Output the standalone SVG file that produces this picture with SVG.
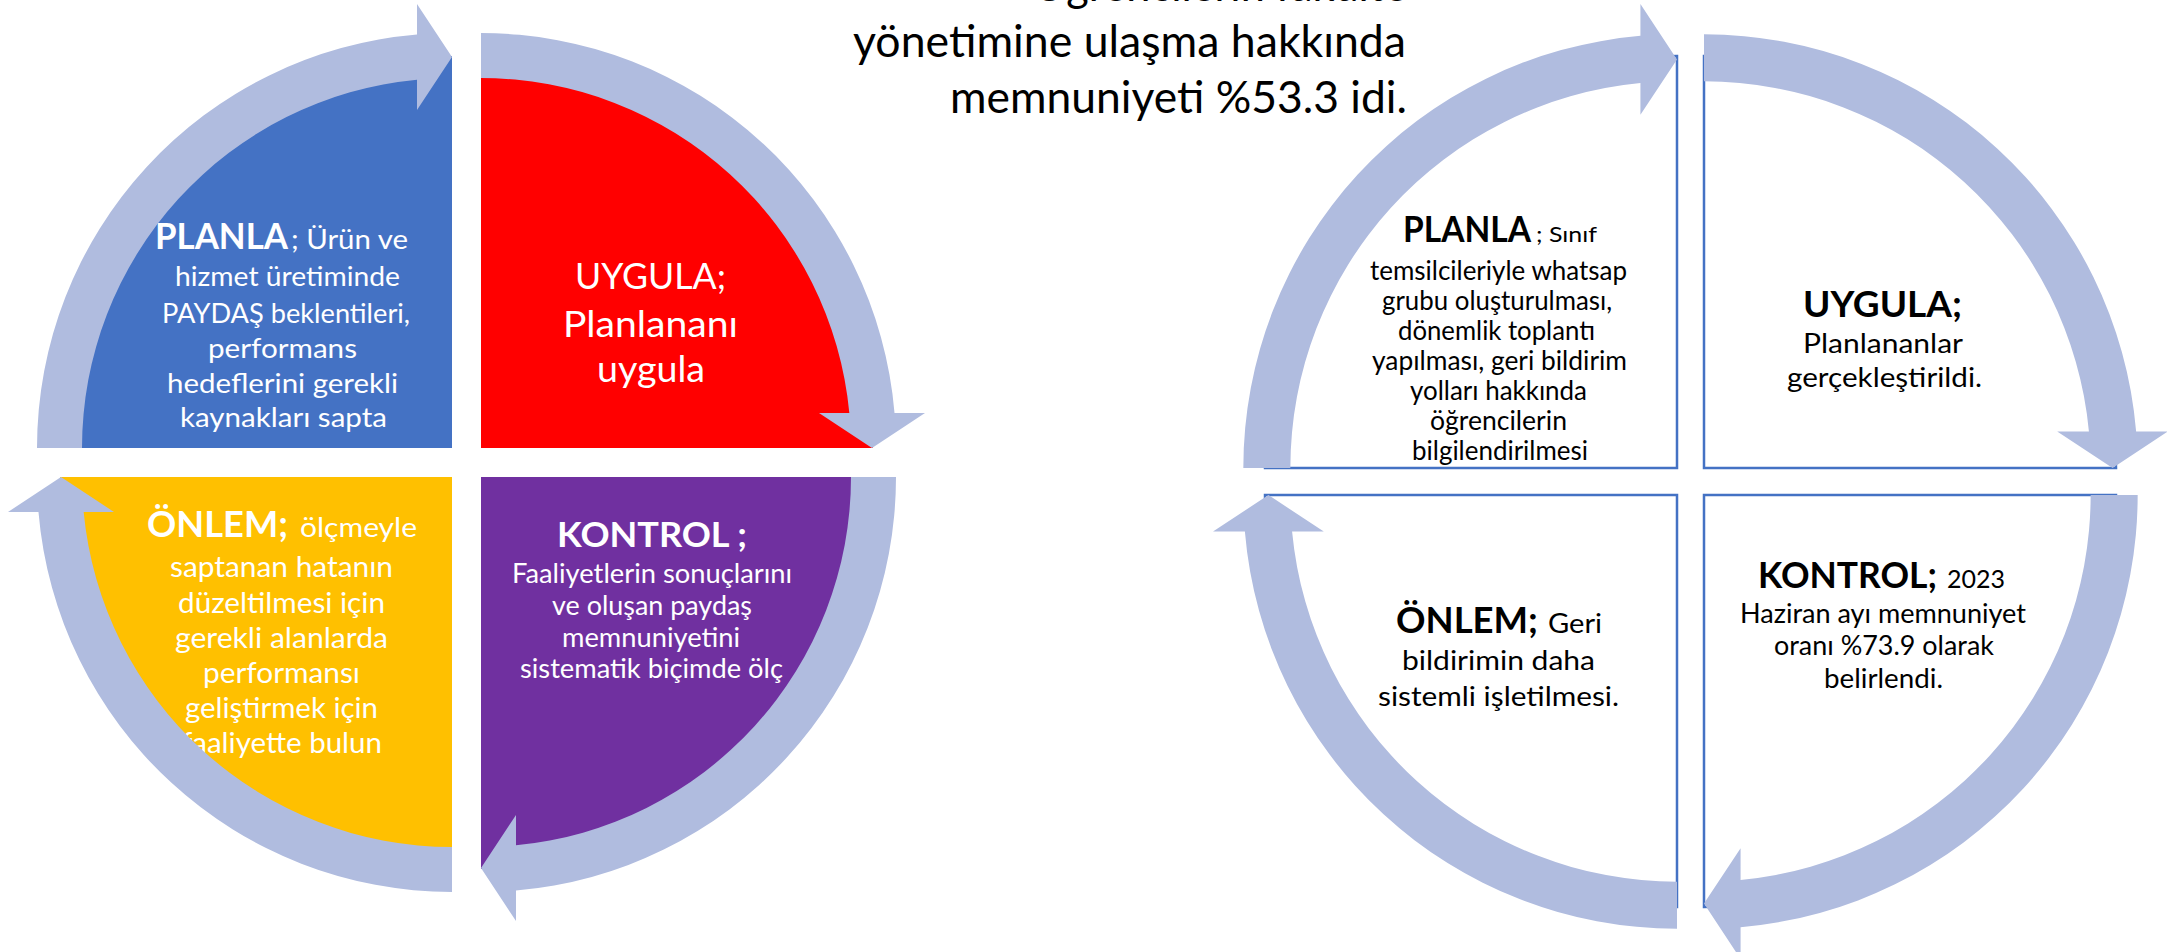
<svg xmlns="http://www.w3.org/2000/svg" xmlns:xlink="http://www.w3.org/1999/xlink" width="2167" height="952" viewBox="0 0 2167 952">
<style>
  text { font-family: Lato, "Open Sans", "Liberation Sans", sans-serif; }
  .w { fill: #ffffff; }
  .k { fill: #000000; }
  .b { font-weight: 700; }
  .pie2 { fill: #ffffff; stroke: #4472C4; stroke-width: 2.5; }
  .arrow { fill: #B0BCDF; }
  .title { font-size: 44px; fill: #000000; }
</style>
<defs>
  <path id="arc" d="M -415 0 A 415 415 0 0 1 -35 -413.52 L -35 -444 L 0 -391 L -35 -338 L -35 -368.34 A 370 370 0 0 0 -370 0 Z"/>
</defs>
<rect x="0" y="0" width="2167" height="952" fill="#ffffff"/>

<g id="title">
  <text class="title" x="1032" y="1" textLength="375" lengthAdjust="spacingAndGlyphs">Öğrencilerin fakülte</text>
  <text class="title" x="853" y="57" textLength="553" lengthAdjust="spacingAndGlyphs">yönetimine ulaşma hakkında</text>
  <text class="title" x="950" y="113" textLength="457" lengthAdjust="spacingAndGlyphs">memnuniyeti %53.3 idi.</text>
</g>

<!-- Left cycle -->
<g id="l-planla">
  <path d="M452,448 L60,448 A392,392 0 0 1 452,56 Z" fill="#4472C4"/>
  <g class="w" font-size="27">
    <text class="b" x="155" y="249" font-size="37" textLength="133" lengthAdjust="spacingAndGlyphs">PLANLA</text>
    <text x="291" y="249" textLength="117" lengthAdjust="spacingAndGlyphs">; Ürün ve</text>
    <text x="175" y="286" textLength="225" lengthAdjust="spacingAndGlyphs">hizmet üretiminde</text>
    <text x="162" y="323" textLength="248" lengthAdjust="spacingAndGlyphs">PAYDAŞ beklentileri,</text>
    <text x="208" y="358" textLength="149" lengthAdjust="spacingAndGlyphs">performans</text>
    <text x="167" y="393" textLength="231" lengthAdjust="spacingAndGlyphs">hedeflerini gerekli</text>
    <text x="180" y="427" textLength="207" lengthAdjust="spacingAndGlyphs">kaynakları sapta</text>
  </g>
</g>
<g id="l-uygula">
  <path d="M481,448 L481,56 A392,392 0 0 1 873,448 Z" fill="#FF0000"/>
  <g class="w" font-size="37">
    <text x="575" y="289" textLength="151" lengthAdjust="spacingAndGlyphs">UYGULA;</text>
    <text x="563" y="337" textLength="175" lengthAdjust="spacingAndGlyphs">Planlananı</text>
    <text x="597" y="382" textLength="108" lengthAdjust="spacingAndGlyphs">uygula</text>
  </g>
</g>
<g id="l-kontrol">
  <path d="M481,477 L873,477 A392,392 0 0 1 481,869 Z" fill="#7030A0"/>
  <g class="w" font-size="27">
    <text class="b" x="557" y="547" font-size="34" textLength="190" lengthAdjust="spacingAndGlyphs">KONTROL ;</text>
    <text x="512" y="583" textLength="280" lengthAdjust="spacingAndGlyphs">Faaliyetlerin sonuçlarını</text>
    <text x="552" y="615" textLength="200" lengthAdjust="spacingAndGlyphs">ve oluşan paydaş</text>
    <text x="562" y="647" textLength="178" lengthAdjust="spacingAndGlyphs">memnuniyetini</text>
    <text x="520" y="678" textLength="263" lengthAdjust="spacingAndGlyphs">sistematik biçimde ölç</text>
  </g>
</g>
<g id="l-onlem">
  <path d="M452,477 L452,869 A392,392 0 0 1 60,477 Z" fill="#FFC000"/>
  <g class="w" font-size="29">
    <text class="b" x="147" y="537" font-size="37" textLength="141" lengthAdjust="spacingAndGlyphs">ÖNLEM;</text>
    <text x="300" y="537" font-size="27" textLength="117" lengthAdjust="spacingAndGlyphs">ölçmeyle</text>
    <text x="170" y="577" textLength="223" lengthAdjust="spacingAndGlyphs">saptanan hatanın</text>
    <text x="178" y="613" textLength="207" lengthAdjust="spacingAndGlyphs">düzeltilmesi için</text>
    <text x="175" y="648" textLength="213" lengthAdjust="spacingAndGlyphs">gerekli alanlarda</text>
    <text x="203" y="683" textLength="157" lengthAdjust="spacingAndGlyphs">performansı</text>
    <text x="185" y="718" textLength="193" lengthAdjust="spacingAndGlyphs">geliştirmek için</text>
    <text x="182" y="753" textLength="200" lengthAdjust="spacingAndGlyphs">faaliyette bulun</text>
  </g>
</g>

<!-- Right cycle -->
<g id="r-planla">
  <path class="pie2" d="M1677,468 L1265,468 A412,412 0 0 1 1677,56 Z"/>
  <g class="k" font-size="26">
    <text class="b" x="1403" y="242" font-size="36" textLength="128" lengthAdjust="spacingAndGlyphs">PLANLA</text>
    <text x="1536" y="242" font-size="22" textLength="61" lengthAdjust="spacingAndGlyphs">; Sınıf</text>
    <text x="1370" y="280" textLength="257" lengthAdjust="spacingAndGlyphs">temsilcileriyle whatsap</text>
    <text x="1382" y="310" textLength="230" lengthAdjust="spacingAndGlyphs">grubu oluşturulması,</text>
    <text x="1398" y="340" textLength="197" lengthAdjust="spacingAndGlyphs">dönemlik toplantı</text>
    <text x="1372" y="370" textLength="255" lengthAdjust="spacingAndGlyphs">yapılması, geri bildirim</text>
    <text x="1410" y="400" textLength="177" lengthAdjust="spacingAndGlyphs">yolları hakkında</text>
    <text x="1430" y="430" textLength="137" lengthAdjust="spacingAndGlyphs">öğrencilerin</text>
    <text x="1412" y="460" textLength="176" lengthAdjust="spacingAndGlyphs">bilgilendirilmesi</text>
  </g>
</g>
<g id="r-uygula">
  <path class="pie2" d="M1704,468 L1704,56 A412,412 0 0 1 2116,468 Z"/>
  <g class="k" font-size="27">
    <text class="b" x="1803" y="317" font-size="37" textLength="159" lengthAdjust="spacingAndGlyphs">UYGULA;</text>
    <text x="1803" y="353" textLength="160" lengthAdjust="spacingAndGlyphs">Planlananlar</text>
    <text x="1787" y="387" textLength="195" lengthAdjust="spacingAndGlyphs">gerçekleştirildi.</text>
  </g>
</g>
<g id="r-kontrol">
  <path class="pie2" d="M1704,495 L2116,495 A412,412 0 0 1 1704,907 Z"/>
  <g class="k" font-size="27">
    <text class="b" x="1758" y="588" font-size="36" textLength="179" lengthAdjust="spacingAndGlyphs">KONTROL;</text>
    <text x="1947" y="588" font-size="25" textLength="58" lengthAdjust="spacingAndGlyphs">2023</text>
    <text x="1740" y="623" textLength="286" lengthAdjust="spacingAndGlyphs">Haziran ayı memnuniyet</text>
    <text x="1774" y="655" textLength="220" lengthAdjust="spacingAndGlyphs">oranı %73.9 olarak</text>
    <text x="1824" y="688" textLength="119" lengthAdjust="spacingAndGlyphs">belirlendi.</text>
  </g>
</g>
<g id="r-onlem">
  <path class="pie2" d="M1677,495 L1677,907 A412,412 0 0 1 1265,495 Z"/>
  <g class="k" font-size="27">
    <text class="b" x="1396" y="633" font-size="37" textLength="142" lengthAdjust="spacingAndGlyphs">ÖNLEM;</text>
    <text x="1548" y="633" font-size="26" textLength="54" lengthAdjust="spacingAndGlyphs">Geri</text>
    <text x="1402" y="670" textLength="193" lengthAdjust="spacingAndGlyphs">bildirimin daha</text>
    <text x="1378" y="706" textLength="241" lengthAdjust="spacingAndGlyphs">sistemli işletilmesi.</text>
  </g>
</g>

<g id="connectors" class="arrow">
  <use xlink:href="#arc" transform="translate(452,448)"/>
  <use xlink:href="#arc" transform="translate(481,448) rotate(90)"/>
  <use xlink:href="#arc" transform="translate(481,477) rotate(180)"/>
  <use xlink:href="#arc" transform="translate(452,477) rotate(270)"/>
  <use xlink:href="#arc" transform="translate(1677,468) scale(1.045)"/>
  <use xlink:href="#arc" transform="translate(1704,468) rotate(90) scale(1.045)"/>
  <use xlink:href="#arc" transform="translate(1704,495) rotate(180) scale(1.045)"/>
  <use xlink:href="#arc" transform="translate(1677,495) rotate(270) scale(1.045)"/>
</g>
</svg>
